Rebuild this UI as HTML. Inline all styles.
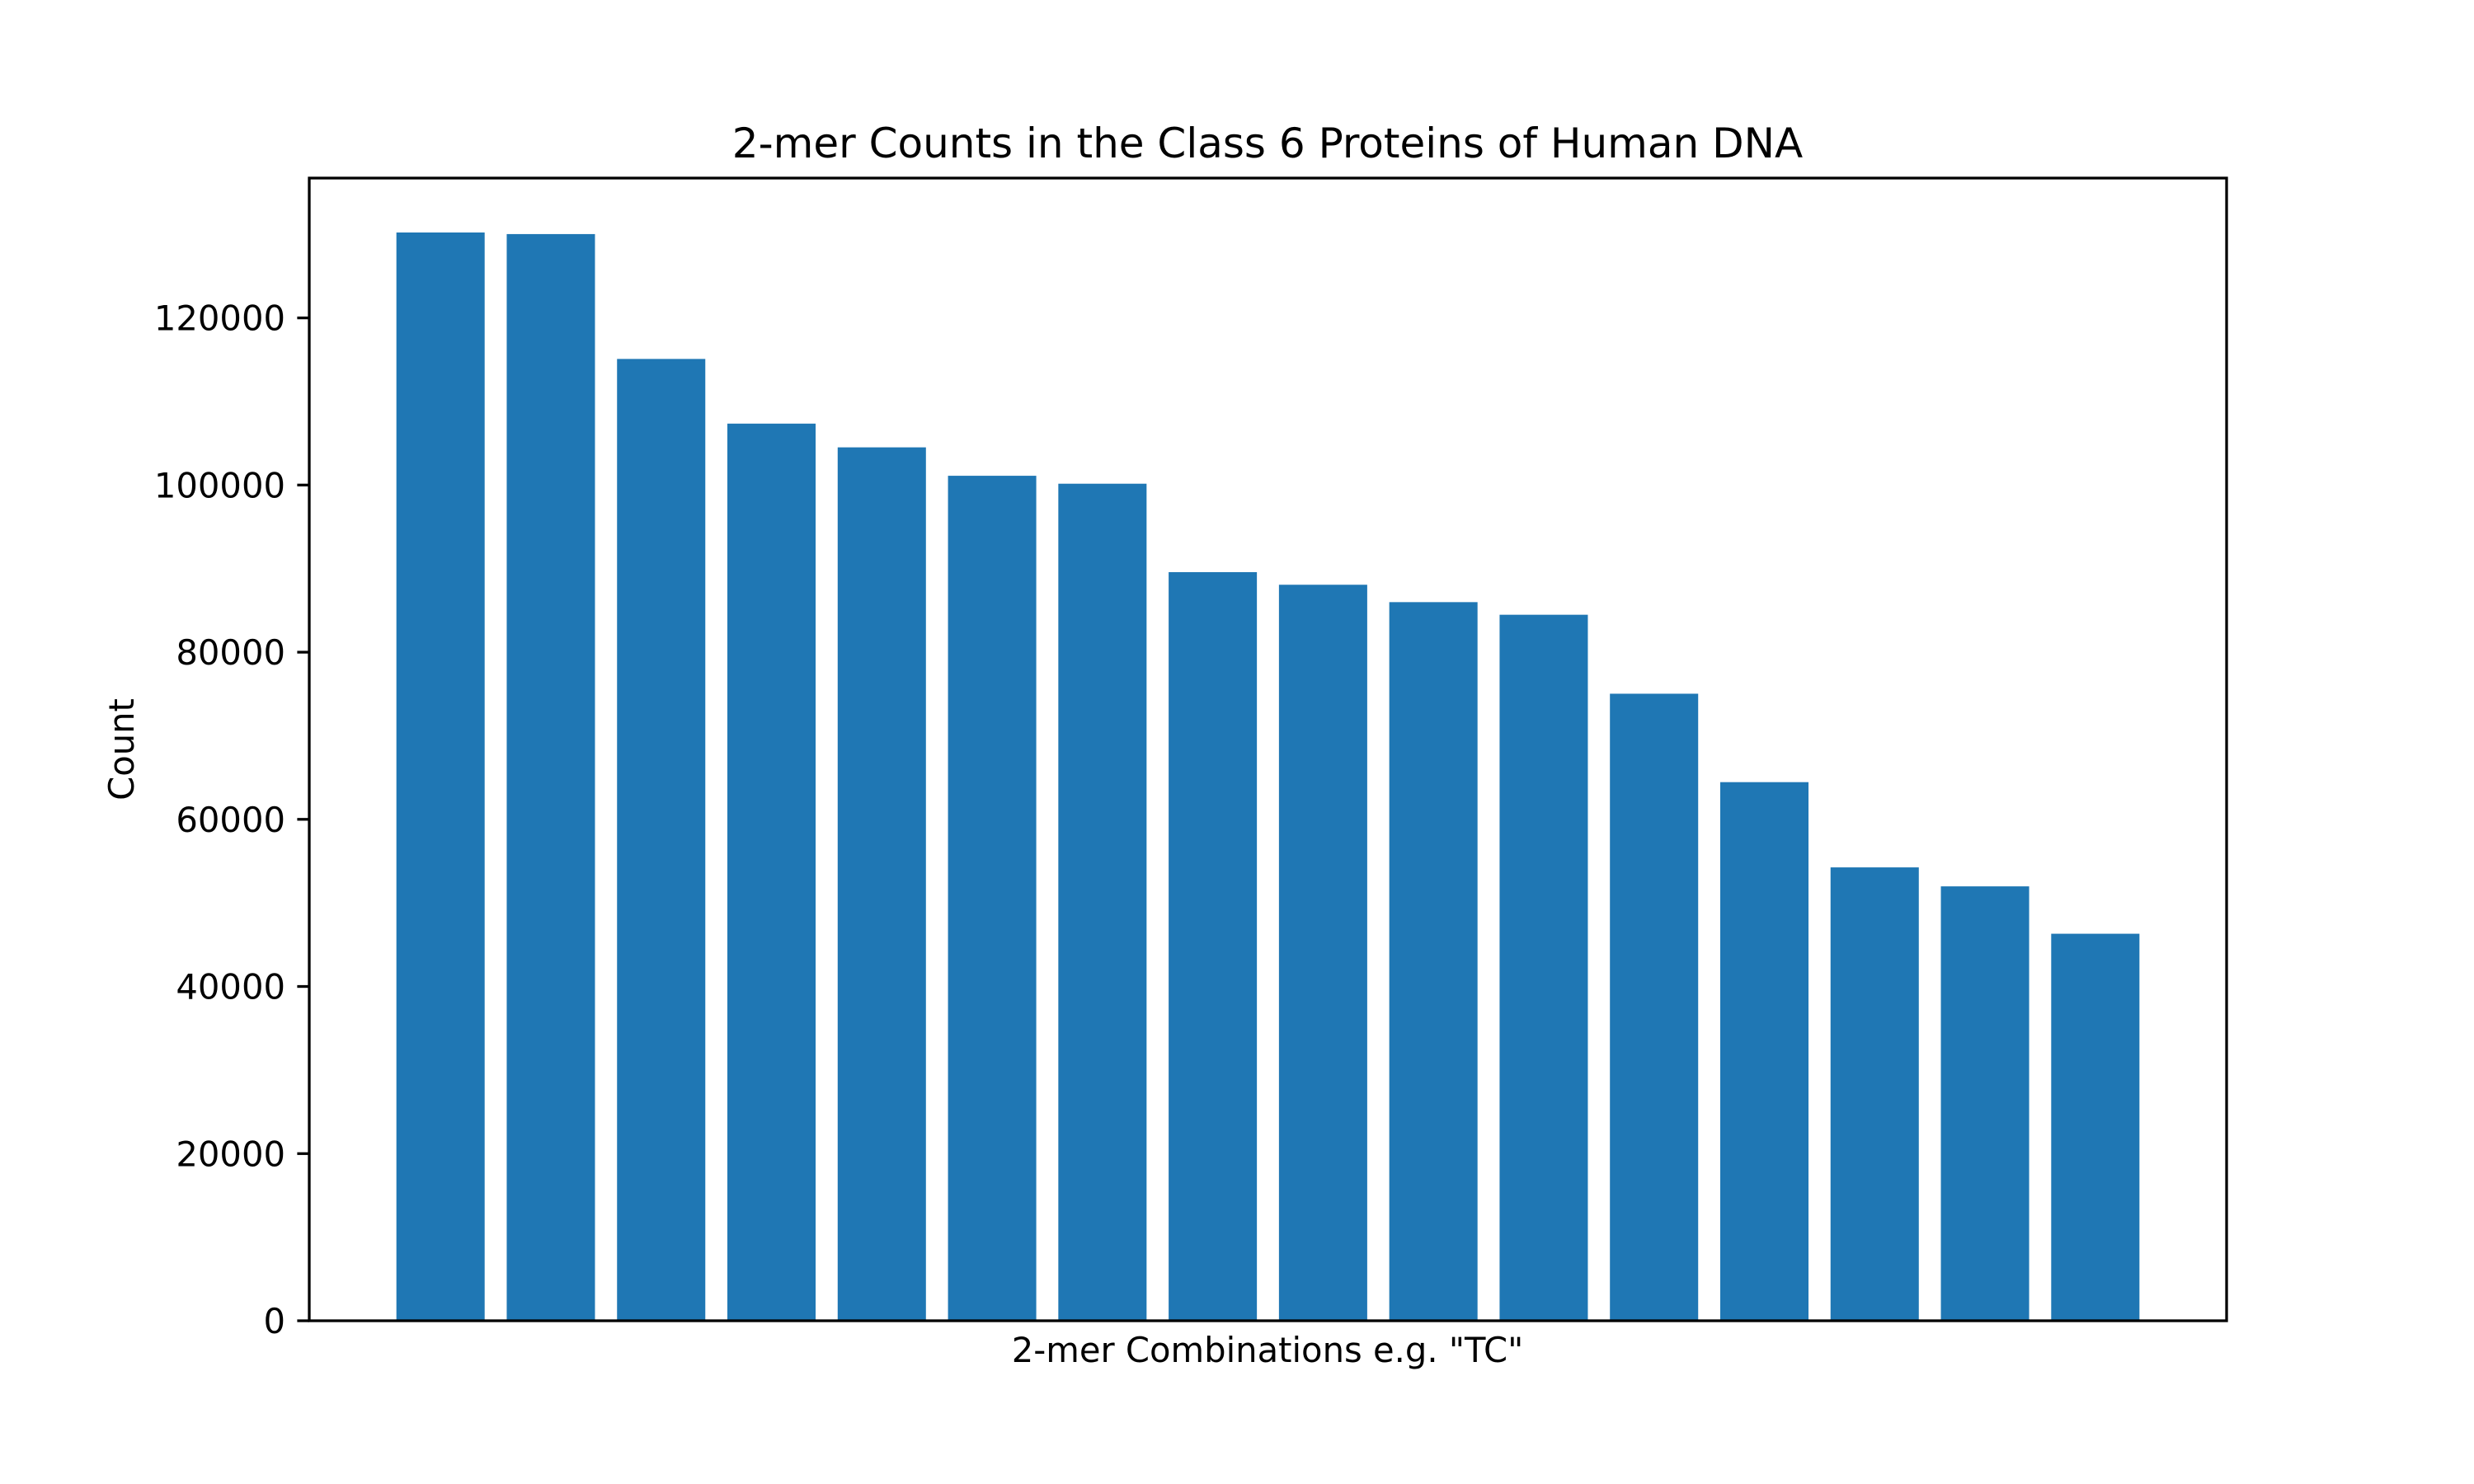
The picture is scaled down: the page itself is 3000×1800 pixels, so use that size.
<!DOCTYPE html>
<html><head><meta charset="utf-8"><style>
html,body{margin:0;padding:0;background:#fff}
svg{display:block;font-family:"DejaVu Sans","Liberation Sans",sans-serif}
</style></head><body>
<svg id="chart" width="3000" height="1800" viewBox="0 0 3000 1800">
<rect width="3000" height="1800" fill="#fff"/>
<text x="1537" y="191" font-size="50" text-anchor="middle" fill="#000">2-mer Counts in the Class 6 Proteins of Human DNA</text>
<g id="bars"></g>
<g id="yticks"></g>
<rect x="375" y="216" width="2325" height="1386" fill="none" stroke="#000" stroke-width="3.3"/>
<text x="1537" y="1652" font-size="41.7" text-anchor="middle" fill="#000">2-mer Combinations e.g. "TC"</text>
<text transform="translate(162,909) rotate(-90)" font-size="41.7" text-anchor="middle" fill="#000">Count</text>
</svg>
<script>
const categories = ["k1","k2","k3","k4","k5","k6","k7","k8","k9","k10","k11","k12","k13","k14","k15","k16"];
const counts = [130220,130030,115090,107350,104510,101110,100160,89580,88070,85990,84480,75030,64450,54250,51980,46310];
const yTickValues = [0,20000,40000,60000,80000,100000,120000];
const yTickLabels = ["0","20000","40000","60000","80000","100000","120000"];

const NS = "http://www.w3.org/2000/svg";
const L = 375, R = 2700, T = 216, B = 1602;
const n = counts.length;
const xMin = -0.4 - 0.05 * (n - 0.2), xMax = (n - 1) + 0.4 + 0.05 * (n - 0.2);
const yMax = Math.max(...counts) * 1.05;
const xs = v => L + (v - xMin) / (xMax - xMin) * (R - L);
const ys = v => B - v / yMax * (B - T);

const bars = document.getElementById('bars');
counts.forEach((c, i) => {
  const r = document.createElementNS(NS, 'rect');
  const x0 = xs(i - 0.4), x1 = xs(i + 0.4);
  r.setAttribute('x', x0);
  r.setAttribute('y', ys(c));
  r.setAttribute('width', x1 - x0);
  r.setAttribute('height', B - ys(c));
  r.setAttribute('fill', '#1f77b4');
  
  
  bars.appendChild(r);
});

const yt = document.getElementById('yticks');
yTickValues.forEach((v, i) => {
  const y = ys(v);
  const ln = document.createElementNS(NS, 'line');
  ln.setAttribute('x1', L - 14.6); ln.setAttribute('x2', L);
  ln.setAttribute('y1', y); ln.setAttribute('y2', y);
  ln.setAttribute('stroke', '#000'); ln.setAttribute('stroke-width', '3.3');
  
  
  yt.appendChild(ln);
  const t = document.createElementNS(NS, 'text');
  t.setAttribute('x', L - 29); t.setAttribute('y', y + 15);
  t.setAttribute('font-size', '41.7'); t.setAttribute('text-anchor', 'end');
  t.textContent = yTickLabels[i];
  
  
  yt.appendChild(t);
});
</script>
</body></html>
